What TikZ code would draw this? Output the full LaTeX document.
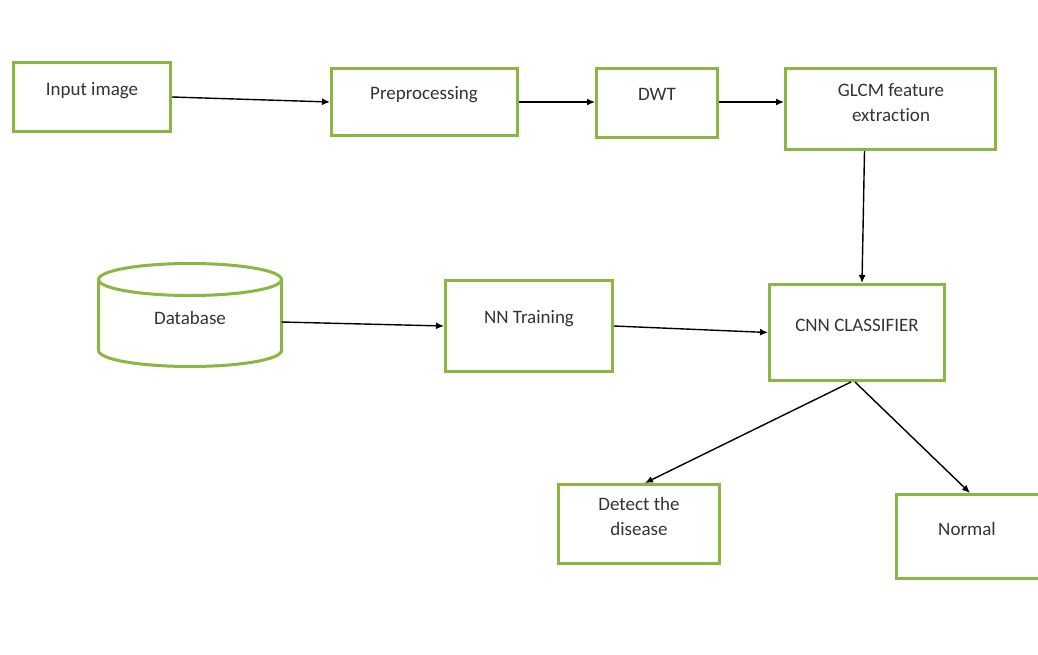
\documentclass[tikz,border=0pt]{standalone}
\usepackage{fontspec}
\setmainfont{Carlito}[Ligatures=NoCommon]
\usetikzlibrary{arrows.meta}
\usetikzlibrary{calc}
\definecolor{boxgreen}{RGB}{140,182,66}

\tikzset{
    box/.style={draw=boxgreen, line width=3pt, inner sep=0pt},
    txt/.style={font=\fontsize{19}{25}\selectfont, text=black!80, inner sep=0pt, align=center},
    flow/.style={line width=1.4pt, -{Latex[length=8pt,width=7pt]}},
}

\begin{document}
\begin{tikzpicture}[x=1pt, y=-1pt]
    \useasboundingbox (0, 0) rectangle (1038, 655);

    % boxes
    \node[box, minimum width=157pt, minimum height=69pt] (input) at (92, 97) {};
    \node[box, minimum width=186pt, minimum height=67pt] (pre) at (424.5, 102) {};
    \node[box, minimum width=121pt, minimum height=69pt] (dwt) at (657, 103) {};
    \node[box, minimum width=210pt, minimum height=81pt] (glcm) at (890.5, 109) {};
    \node[box, minimum width=167pt, minimum height=91pt] (nn) at (529, 326) {};
    \node[box, minimum width=175pt, minimum height=96pt] (cnn) at (857, 332.5) {};
    \node[box, minimum width=161pt, minimum height=79pt] (detect) at (639, 524) {};
    \node[box, minimum width=152pt, minimum height=84pt] (normal) at (972.5, 536.5) {};

    % database cylinder
    \node[minimum width=183pt, minimum height=103pt, inner sep=0pt, outer sep=0pt] (db) at (190, 315) {};
    \draw[boxgreen, line width=3pt] ([yshift=-16pt]db.north) ellipse [x radius=91.5pt, y radius=16pt];
    \draw[boxgreen, line width=3pt] ([yshift=-16pt]db.north west) -- ([yshift=16pt]db.south west)
        arc [start angle=180, end angle=360, x radius=91.5pt, y radius=16pt]
        -- ([yshift=-16pt]db.north east);

    % texts
    \node[txt] (input-txt) at (92, 91) {Input image};
    \node[txt] (pre-txt) at (424, 95) {Preprocessing};
    \node[txt] (dwt-txt) at (657, 94) {DWT};
    \node[txt] (glcm-txt) at (891, 103) {GLCM feature\\extraction};
    \node[txt] (db-txt) at (190, 318) {Database};
    \node[txt] (nn-txt) at (529, 319) {NN Training};
    \node[txt] (cnn-txt) at (857, 325) {CNN CLASSIFIER};
    \node[txt] (detect-txt) at (639, 516) {Detect the\\disease};
    \node[txt] (normal-txt) at (967, 529) {Normal};

    % arrows
    \draw[flow] (input.east) -- (pre.west);
    \draw[flow] (pre.east) -- (pre.east -| dwt.west);
    \draw[flow] (dwt.east |- pre.east) -- (pre.east -| glcm.west);
    \draw[flow] ([xshift=-26pt]glcm.south) -- ([xshift=5pt]cnn.north);
    \draw[flow] ([yshift=-7pt]db.east) -- (nn.west);
    \draw[flow] (nn.east) -- (cnn.west);
    \draw[flow] ([xshift=-6pt]cnn.south) -- ([xshift=6pt]detect.north);
    \draw[flow] ([xshift=-2pt]cnn.south) -- ([xshift=-2.5pt]normal.north);

\end{tikzpicture}
\end{document}
